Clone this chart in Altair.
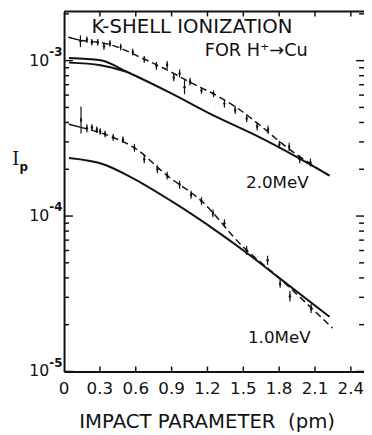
import altair as alt
import pandas as pd

# ---------------- data ----------------
X_TICKS = [0, 0.3, 0.6, 0.9, 1.2, 1.5, 1.8, 2.1, 2.4]
X_LABELS = ["0", "0.3", "0.6", "0.9", "1.2", "1.5", "1.8", "2.1", "2.4"]
Y_DECADES = [1e-5, 1e-4, 1e-3]
Y_EXP = ["-5", "-4", "-3"]
Y_MINOR = [2e-5, 3e-5, 4e-5, 5e-5, 6e-5, 7e-5, 8e-5, 9e-5,
           2e-4, 3e-4, 4e-4, 5e-4, 6e-4, 7e-4, 8e-4, 9e-4, 2e-3]
X_DOMAIN = [0, 2.51]
Y_DOMAIN = [1e-5, 2.07e-3]

# 2.0 MeV measured points
up_x = [0.137, 0.191, 0.233, 0.282, 0.334, 0.384, 0.474, 0.575, 0.671, 0.773,
        0.863, 0.918, 0.967, 1.008, 1.054, 1.150, 1.251, 1.342, 1.432, 1.528,
        1.616, 1.707, 1.802, 1.884, 1.972, 2.062]
up_y = [1.334e-3, 1.364e-3, 1.313e-3, 1.313e-3, 1.239e-3, 1.288e-3, 1.222e-3,
        1.135e-3, 1.019e-3, 9.26e-4, 9.39e-4, 7.80e-4, 8.27e-4, 6.75e-4,
        7.33e-4, 6.43e-4, 6.12e-4, 5.29e-4, 4.81e-4, 4.25e-4, 3.77e-4,
        3.59e-4, 2.88e-4, 2.79e-4, 2.32e-4, 2.21e-4]
up_err = [1.09, 1.05, 1.05, 1.05, 1.06, 1.05, 1.05, 1.05, 1.05, 1.06, 1.06,
          1.06, 1.06, 1.11, 1.06, 1.05, 1.05, 1.06, 1.06, 1.06, 1.06, 1.06,
          1.06, 1.06, 1.06, 1.06]

# 1.0 MeV measured points
lo_x = [0.142, 0.191, 0.233, 0.274, 0.302, 0.343, 0.411, 0.493, 0.589, 0.671,
        0.781, 0.863, 0.967, 1.063, 1.150, 1.246, 1.342, 1.528, 1.703, 1.808,
        1.890, 2.068]
lo_y = [4.15e-4, 3.67e-4, 3.71e-4, 3.59e-4, 3.50e-4, 3.37e-4, 3.21e-4,
        3.10e-4, 2.75e-4, 2.32e-4, 2.00e-4, 1.82e-4, 1.59e-4, 1.37e-4,
        1.25e-4, 1.04e-4, 8.99e-5, 6.00e-5, 5.19e-5, 3.66e-5, 3.05e-5, 2.54e-5]
lo_err = [1.22, 1.06, 1.05, 1.05, 1.05, 1.05, 1.05, 1.05, 1.06, 1.06, 1.06,
          1.06, 1.06, 1.06, 1.06, 1.06, 1.06, 1.07, 1.07, 1.06, 1.08, 1.07]

# theory curves (solid)
th2a_x = [0.041, 0.305, 0.524, 0.881, 1.276, 1.605, 1.934, 2.222]
th2a_y = [1.040e-3, 1.005e-3, 8.48e-4, 6.25e-4, 4.34e-4, 3.30e-4, 2.43e-4, 1.82e-4]
th2b_x = [0.041, 0.305, 0.524]
th2b_y = [9.71e-4, 9.34e-4, 8.48e-4]
th1_x = [0.041, 0.346, 0.535, 0.889, 1.300, 1.547, 1.794, 2.222]
th1_y = [2.36e-4, 2.13e-4, 1.82e-4, 1.26e-4, 7.77e-5, 5.66e-5, 4.03e-5, 2.25e-5]

# fits through the data (dashed) and their short solid lead-ins
fit2_x = [0.137, 0.425, 0.616, 0.822, 1.082, 1.301, 1.493, 1.670, 1.835, 2.219]
fit2_y = [1.35e-3, 1.24e-3, 1.07e-3, 9.03e-4, 7.08e-4, 5.83e-4, 4.69e-4,
          3.67e-4, 2.88e-4, 1.82e-4]
fit1_x = [0.14, 0.41, 0.589, 0.863, 1.150, 1.493, 1.794, 2.246]
fit1_y = [3.72e-4, 3.21e-4, 2.75e-4, 1.82e-4, 1.25e-4, 6.39e-5, 4.03e-5, 1.90e-5]
tail2_x = [0.035, 0.137]
tail2_y = [1.413e-3, 1.35e-3]
tail1_x = [0.04, 0.14]
tail1_y = [3.90e-4, 3.72e-4]

# annotations
ANN_TEXT = ["K-SHELL IONIZATION", "FOR H\u207a\u2192Cu", "2.0MeV", "1.0MeV"]
ANN_X = [0.230, 1.177, 1.523, 1.539]
ANN_Y = [1.65e-3, 1.148e-3, 1.63e-4, 1.64e-5]
ANN_SIZE = [20, 18, 17, 17]

# ---------------- build tables ----------------
pts = pd.DataFrame({
    "x": up_x + lo_x,
    "y": up_y + lo_y,
    "f": up_err + lo_err,
})
pts["lo"] = pts["y"] / pts["f"]
pts["hi"] = pts["y"] * pts["f"]


def line_df(pairs):
    rows = []
    for name, xx, yy in pairs:
        for a, b in zip(xx, yy):
            rows.append({"id": name, "x": a, "y": b})
    return pd.DataFrame(rows)


solid_df = line_df([("t2a", th2a_x, th2a_y), ("t2b", th2b_x, th2b_y),
                    ("t1", th1_x, th1_y)])
dash_df = line_df([("f2", fit2_x, fit2_y), ("f1", fit1_x, fit1_y)])
tail_df = line_df([("l2", tail2_x, tail2_y), ("l1", tail1_x, tail1_y)])

W, H = 305, 366
FONT = "DejaVu Sans"
INK = "#111111"

xs = alt.Scale(domain=X_DOMAIN, nice=False, zero=False)
ys = alt.Scale(type="log", domain=Y_DOMAIN, nice=False)

x_axis = alt.Axis(values=X_TICKS, ticks=False, tickSize=0, labels=False,
                  grid=False, domain=True, domainWidth=2, domainColor=INK,
                  title="IMPACT PARAMETER\u00a0 (pm)", titleFont=FONT,
                  titleFontSize=20, titleFontWeight="normal", titleColor=INK,
                  titleX=145, titleY=57, titleBaseline="alphabetic",
                  titleAlign="center", titleAnchor="start")
y_axis = alt.Axis(values=Y_DECADES, ticks=False, tickSize=0, labels=False,
                  grid=False, domain=True, domainWidth=2, domainColor=INK,
                  title="")

diamond = "M0,-1L0.45,0L0,1L-0.45,0Z"

points = alt.Chart(pts).mark_point(shape=diamond, filled=True, size=30,
                                   color=INK, opacity=1).encode(
    x=alt.X("x:Q", scale=xs, axis=x_axis),
    y=alt.Y("y:Q", scale=ys, axis=y_axis),
)
errbars = alt.Chart(pts).mark_rule(strokeWidth=1.2, color=INK).encode(
    x=alt.X("x:Q", scale=xs), y=alt.Y("lo:Q", scale=ys), y2="hi:Q")

solid = alt.Chart(solid_df).mark_line(strokeWidth=2, color=INK,
                                      interpolate="monotone").encode(
    x=alt.X("x:Q", scale=xs), y=alt.Y("y:Q", scale=ys), detail="id:N")
dashed = alt.Chart(dash_df).mark_line(strokeWidth=1.5, color=INK,
                                      strokeDash=[7, 4],
                                      interpolate="monotone").encode(
    x=alt.X("x:Q", scale=xs), y=alt.Y("y:Q", scale=ys), detail="id:N")
tails = alt.Chart(tail_df).mark_line(strokeWidth=1.5, color=INK).encode(
    x=alt.X("x:Q", scale=xs), y=alt.Y("y:Q", scale=ys), detail="id:N")

ymaj = pd.DataFrame({"v": Y_DECADES, "e": Y_EXP})
ymin = pd.DataFrame({"v": Y_MINOR})
xt = pd.DataFrame({"v": X_TICKS[1:]})
xl = pd.DataFrame({"v": X_TICKS, "t": X_LABELS})


def yticks(df, x0, x1):
    return alt.Chart(df).mark_rule(strokeWidth=1.5, color=INK).encode(
        y=alt.Y("v:Q", scale=ys), x=alt.value(x0), x2=alt.value(x1))


def xticks(y0, y1):
    return alt.Chart(xt).mark_rule(strokeWidth=1.5, color=INK).encode(
        x=alt.X("v:Q", scale=xs), y=alt.value(y0), y2=alt.value(y1))


tick_layers = [
    yticks(ymaj, 0, 9), yticks(ymin, 0, 5),
    yticks(ymaj, W, W - 8), yticks(ymin, W, W - 5),
    xticks(0, 5), xticks(H, H - 5),
]

top_frame = alt.Chart(pd.DataFrame({"a": [0]})).mark_rule(
    strokeWidth=2, color=INK).encode(x=alt.value(0), x2=alt.value(W),
                                     y=alt.value(0))

xlab = alt.Chart(xl).mark_text(align="center", baseline="top", dy=10,
                               font=FONT, fontSize=17, color=INK).encode(
    x=alt.X("v:Q", scale=xs), y=alt.value(H), text="t:N")

ylab = alt.Chart(ymaj).mark_text(align="right", baseline="middle", dx=-15,
                                 font=FONT, fontSize=16, color=INK).encode(
    y=alt.Y("v:Q", scale=ys), x=alt.value(0), text=alt.value("10"))
yexp = alt.Chart(ymaj).mark_text(align="left", baseline="middle", dx=-15,
                                 dy=-9, font=FONT, fontSize=12,
                                 fontWeight="bold", color=INK).encode(
    y=alt.Y("v:Q", scale=ys), x=alt.value(0), text="e:N")

ytitle_I = alt.Chart(pd.DataFrame({"a": [0]})).mark_text(
    align="center", baseline="middle", font="DejaVu Serif", fontSize=18,
    color=INK).encode(x=alt.value(-49), y=alt.datum(2.30e-4, scale=ys),
                      text=alt.value("I"))
ytitle_p = alt.Chart(pd.DataFrame({"a": [0]})).mark_text(
    align="center", baseline="middle", font=FONT, fontSize=12,
    fontWeight="bold", color=INK).encode(
    x=alt.value(-41), y=alt.datum(2.08e-4, scale=ys), text=alt.value("p"))

ann_df = pd.DataFrame({"t": ANN_TEXT, "x": ANN_X, "y": ANN_Y, "s": ANN_SIZE})
ann_layers = []
for i in range(len(ANN_TEXT)):
    ann_layers.append(
        alt.Chart(ann_df.iloc[[i]]).mark_text(
            align="left", baseline="middle", font=FONT,
            fontSize=int(ANN_SIZE[i]), color=INK).encode(
            x=alt.X("x:Q", scale=xs), y=alt.Y("y:Q", scale=ys), text="t:N"))

chart = alt.layer(
    points, errbars, solid, dashed, tails, *tick_layers, top_frame, xlab,
    ylab, yexp, ytitle_I, ytitle_p, *ann_layers
).properties(
    width=W, height=H,
    autosize=alt.AutoSizeParams(type="none"),
    padding={"left": 57, "top": 0, "right": 0, "bottom": 60},
    background="white",
).configure_view(stroke="transparent")

chart.save("out.html", embed_options={"renderer": "svg", "actions": False})
